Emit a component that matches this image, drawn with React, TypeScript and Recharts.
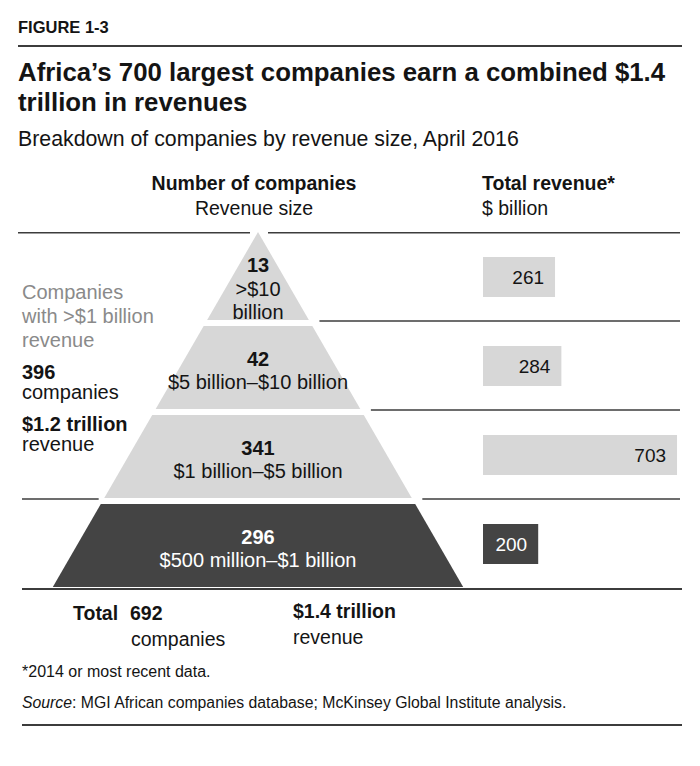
import React from "react";
import { ComposedChart, Bar, XAxis, YAxis, Cell, LabelList } from "recharts";

// revenue-size bands, top of pyramid first
const SIZE_LINES = [[">$10", "billion"], ["$5 billion–$10 billion"], ["$1 billion–$5 billion"], ["$500 million–$1 billion"]];
const COMPANIES = [13, 42, 341, 296];
const REVENUE_BN = [261, 284, 703, 200]; // total revenue, $ billion
const OVER_1BN = [true, true, true, false];

const rows = SIZE_LINES.map((lines, i) => ({
  size: lines.join(" "),
  lines,
  companies: COMPANIES[i],
  revenue: REVENUE_BN[i],
  big: OVER_1BN[i],
}));

const sum = (a: number[]) => a.reduce((s, v) => s + v, 0);
const bigCompanies = sum(rows.filter((r) => r.big).map((r) => r.companies));
const bigRevenue = sum(rows.filter((r) => r.big).map((r) => r.revenue));
const totalCompanies = sum(COMPANIES);
const totalRevenue = sum(REVENUE_BN);
const trillions = (bn: number) => `$${(bn / 1000).toFixed(1)} trillion`;

const FONT = "'Liberation Sans', Arial, Helvetica, sans-serif";
const LIGHT = "#d7d7d7";
const DARK = "#444444";
const RULE = "#3c3c3c";
const INK = "#141414";

const CX = 258; // pyramid axis
const SLOPE = 0.578; // half-width per px below the apex
const GAP = 5;

function PyramidRow(props: any) {
  const { y, height, index, payload } = props;
  const apex = y - index * height;
  const half = (yy: number) => (yy - apex) * SLOPE;
  const yT = index === 0 ? y : y + GAP;
  const yB = y + height - 1;
  const last = index === rows.length - 1;
  const fill = payload.big ? LIGHT : DARK;
  const color = payload.big ? INK : "#ffffff";
  const lines = [String(payload.companies), ...payload.lines];
  const cy = index === 0 ? y + height * 0.64 : y + height / 2 + 5;
  const step = 23.5;
  const y0 = cy - ((lines.length - 1) * step) / 2;
  const prev = index > 0 ? rows[index - 1] : null;
  return (
    <g>
      <polygon
        points={`${CX - half(yT)},${yT} ${CX + half(yT)},${yT} ${CX + half(yB)},${yB} ${CX - half(yB)},${yB}`}
        fill={fill}
      />
      {index === 0 && (
        <g stroke={RULE} strokeWidth={1.5}>
          <line x1={18} x2={CX - 8} y1={y + 0.75} y2={y + 0.75} />
          <line x1={CX + 10} x2={680} y1={y + 0.75} y2={y + 0.75} />
        </g>
      )}
      {prev && prev.big !== payload.big && (
        <line x1={22} x2={CX - half(y) - 5} y1={y} y2={y} stroke={RULE} strokeWidth={1.5} />
      )}
      {last ? (
        <line x1={22} x2={682} y1={y + height + 1} y2={y + height + 1} stroke={RULE} strokeWidth={2} />
      ) : (
        <line x1={CX + half(y + height) + 10} x2={680} y1={y + height} y2={y + height} stroke={RULE} strokeWidth={1.5} />
      )}
      {lines.map((t: string, k: number) => (
        <text
          key={k}
          x={CX}
          y={y0 + k * step}
          textAnchor="middle"
          dominantBaseline="central"
          fontFamily={FONT}
          fontSize={20}
          fontWeight={k === 0 ? 700 : 400}
          fill={color}
        >
          {t}
        </text>
      ))}
    </g>
  );
}

function RevenueLabel(props: any) {
  const { x, y, width, height, value, index } = props;
  return (
    <text
      x={x + width - 11}
      y={y + height / 2}
      textAnchor="end"
      dominantBaseline="central"
      fontFamily={FONT}
      fontSize={19}
      fill={rows[index].big ? INK : "#ffffff"}
    >
      {value}
    </text>
  );
}

function Txt({ x, y, size = 20, lh, bold = false, color = INK, center = false, children }: any) {
  const line = lh ?? size * 1.2;
  return (
    <div
      style={{
        position: "absolute",
        left: x,
        top: y - line / 2,
        fontSize: size,
        lineHeight: `${line}px`,
        fontWeight: bold ? 700 : 400,
        color,
        whiteSpace: "nowrap",
        transform: center ? "translateX(-50%)" : undefined,
      }}
    >
      {children}
    </div>
  );
}

export default function App() {
  return (
    <div
      style={{
        position: "absolute",
        left: 0,
        top: 0,
        width: 700,
        height: 766,
        background: "#ffffff",
        fontFamily: FONT,
        color: INK,
      }}
    >
      <Txt x={18} y={28} size={16.5} bold>FIGURE 1-3</Txt>
      <div style={{ position: "absolute", left: 18, top: 45, width: 664, height: 2, background: RULE }} />
      <div
        style={{
          position: "absolute",
          left: 18,
          top: 57,
          width: 675,
          fontSize: 25.8,
          lineHeight: "30px",
          fontWeight: 700,
        }}
      >
        Africa’s 700 largest companies earn a combined $1.4
        <br />
        trillion in revenues
      </div>
      <Txt x={18} y={140} size={21.3}>Breakdown of companies by revenue size, April 2016</Txt>

      <Txt x={254} y={184} size={19.5} bold center>Number of companies</Txt>
      <Txt x={254} y={209} size={19.5} center>Revenue size</Txt>
      <Txt x={482} y={184} size={19.5} bold>Total revenue*</Txt>
      <Txt x={482} y={209} size={19.5}>$ billion</Txt>

      <div style={{ position: "absolute", left: 0, top: 232 }}>
        <ComposedChart
          width={700}
          height={358}
          data={rows}
          layout="vertical"
          barCategoryGap={0}
          margin={{ top: 0, right: 0, bottom: 2, left: 0 }}
        >
          <YAxis yAxisId="pyr" type="category" dataKey="size" hide />
          <YAxis yAxisId="rev" type="category" dataKey="size" hide />
          <XAxis xAxisId="pyr" type="number" domain={[0, 700]} hide />
          <XAxis xAxisId="rev" type="number" domain={[0, 750]} padding={{ left: 483, right: 10 }} hide />
          <Bar
            xAxisId="pyr"
            yAxisId="pyr"
            dataKey="companies"
            shape={(p: any) => <PyramidRow {...p} />}
            isAnimationActive={false}
          />
          <Bar xAxisId="rev" yAxisId="rev" dataKey="revenue" barSize={40} isAnimationActive={false}>
            {rows.map((r, i) => (
              <Cell key={i} fill={r.big ? LIGHT : DARK} />
            ))}
            <LabelList dataKey="revenue" content={(p: any) => <RevenueLabel {...p} />} />
          </Bar>
        </ComposedChart>
      </div>

      <Txt x={22} y={292} size={20} lh={24} color="#8a8a8a">Companies</Txt>
      <Txt x={22} y={316} size={20} lh={24} color="#8a8a8a">with &gt;$1 billion</Txt>
      <Txt x={22} y={340} size={20} lh={24} color="#8a8a8a">revenue</Txt>
      <Txt x={22} y={372} size={20} lh={20} bold>{bigCompanies}</Txt>
      <Txt x={22} y={392} size={20} lh={20}>companies</Txt>
      <Txt x={22} y={424} size={20} lh={20} bold>{trillions(bigRevenue)}</Txt>
      <Txt x={22} y={444} size={20} lh={20}>revenue</Txt>

      <Txt x={73} y={614} size={19.5} bold>Total</Txt>
      <Txt x={130} y={614} size={19.5} bold>{totalCompanies}</Txt>
      <Txt x={131} y={640} size={19.5}>companies</Txt>
      <Txt x={293} y={612} size={19.5} bold>{trillions(totalRevenue)}</Txt>
      <Txt x={293} y={638} size={19.5}>revenue</Txt>

      <Txt x={22} y={672} size={16}>*2014 or most recent data.</Txt>
      <Txt x={22} y={703} size={15.8}>
        <i>Source</i>: MGI African companies database; McKinsey Global Institute analysis.
      </Txt>
      <div style={{ position: "absolute", left: 22, top: 724, width: 660, height: 2, background: RULE }} />
    </div>
  );
}
